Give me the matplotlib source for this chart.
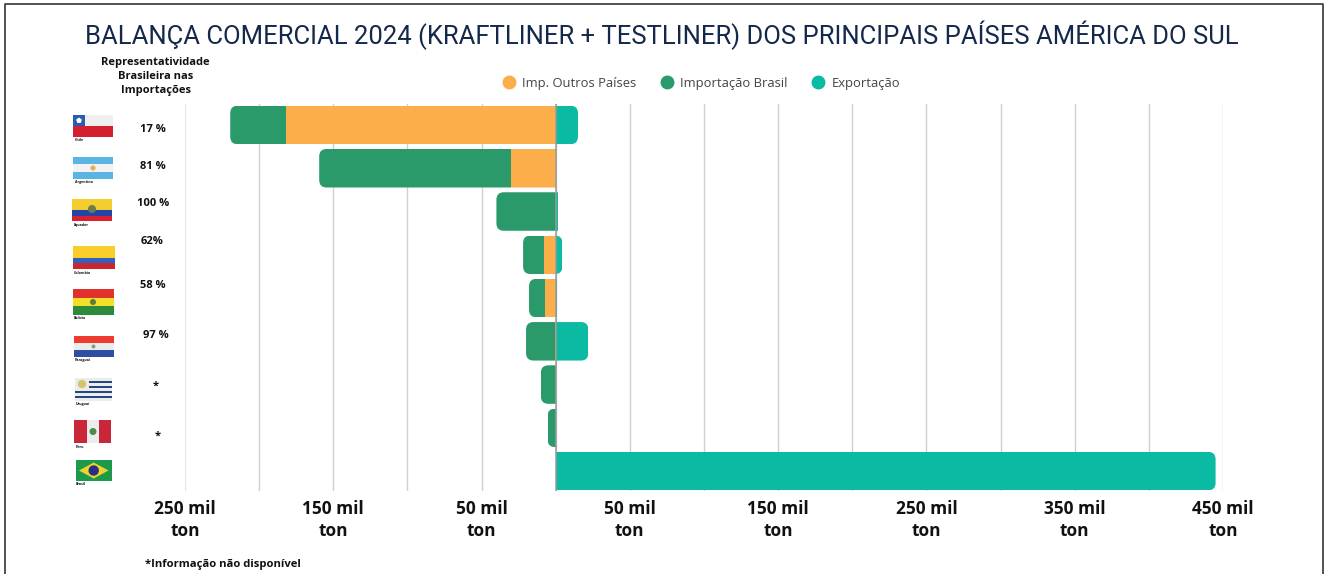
import matplotlib
matplotlib.use('Agg')
import matplotlib.pyplot as plt
from matplotlib.lines import Line2D
from matplotlib.patches import Rectangle, Circle, FancyBboxPatch, RegularPolygon, Polygon
from matplotlib.transforms import Affine2D

# valores em mil toneladas
paises = ['Chile', 'Argentina', 'Equador', 'Colombia', 'Bolivia', 'Paraguai', 'Uruguai', 'Peru', 'Brasil']
imp_outros = [182, 30, 0, 8, 7, 0.5, 0, 0, 0]
imp_brasil = [37.5, 129.5, 40, 14, 11, 19.5, 10, 5.5, 0]
exportacao = [15, 0, 1.5, 4.5, 0.7, 22, 0, 0, 445]
representatividade = ['17 %', '81 %', '100 %', '62%', '58 %', '97 %', '*', '*', '']

ticks_label = [-250, -150, -50, 50, 150, 250, 350, 450]
ticks_grade = [-200, -100, 0, 100, 200, 300, 400]
labels_x = ['250 mil\nton', '150 mil\nton', '50 mil\nton', '50 mil\nton',
            '150 mil\nton', '250 mil\nton', '350 mil\nton', '450 mil\nton']

LARANJA = '#FCAE4B'
VERDE = '#2B9A6B'
TEAL = '#0BBAA2'
W, H = 1325, 574

fig = plt.figure(figsize=(W / 100, H / 100), dpi=100)
fig.patch.set_facecolor('white')
px = Affine2D().scale(1, -1).translate(0, H)  # pixels da imagem, y para baixo


def axes_px(x0, y0, x1, y1):
    return [x0 / W, 1 - y1 / H, (x1 - x0) / W, (y1 - y0) / H]


def texto(x, y, s, **kw):
    kw.setdefault('ha', 'center')
    kw.setdefault('va', 'center')
    kw.setdefault('family', 'Open Sans')
    kw.setdefault('color', '#111111')
    kw.setdefault('fontweight', 'bold')
    fig.text(x / W, 1 - y / H, s, **kw)


ax = fig.add_axes(axes_px(185, 104, 1223, 491))
ax.set_xlim(-250, 450)
ax.set_ylim(8.46, -0.485)
for s in ax.spines.values():
    s.set_visible(False)

y = list(range(len(paises)))
neg_outros = [-v for v in imp_outros]
neg_brasil = [-v for v in imp_brasil]
b_o = ax.barh(y, neg_outros, height=0.89, color=LARANJA, zorder=3)
b_b = ax.barh(y, neg_brasil, left=neg_outros, height=0.89, color=VERDE, zorder=3)
b_e = ax.barh(y, exportacao, height=0.89, color=TEAL, zorder=3)

# cantos arredondados nas pontas externas das barras
raio_x = 5.0
raio_y = 7.5 / 43.3
for i in y:
    esq = -(imp_outros[i] + imp_brasil[i])
    dir_ = exportacao[i]
    if esq == 0:
        esq = -50
    if dir_ < 3:
        dir_ = dir_ + 50
    clip = FancyBboxPatch((esq, i - 0.445), dir_ - esq, 0.89,
                          boxstyle='round,pad=0,rounding_size=%f' % raio_x,
                          mutation_aspect=raio_y / raio_x,
                          transform=ax.transData)
    b_o[i].set_clip_path(clip)
    b_b[i].set_clip_path(clip)
    b_e[i].set_clip_path(clip)

ax.set_xticks(ticks_label)
ax.set_xticklabels(labels_x, fontfamily='Open Sans', fontweight='bold', fontsize=12.4,
                   color='#111111', linespacing=1.3)
ax.set_xticks(ticks_grade, minor=True)
ax.set_yticks([])
ax.tick_params(axis='x', which='both', length=0, pad=6.5)
ax.grid(axis='x', which='both', color='#d0d0d0', linewidth=1.0, zorder=0)
ax.get_xgridlines()[0].set_color('#e6e6e6')
ax.axvline(0, color='#9a9a9a', linewidth=1.1, zorder=4)

# titulo e moldura
texto(662, 35, 'BALANÇA COMERCIAL 2024 (KRAFTLINER + TESTLINER) DOS PRINCIPAIS PAÍSES AMÉRICA DO SUL',
      family='Roboto', fontweight='normal', fontsize=18.45, color='#14284B')
fig.add_artist(Line2D([5, 5, 1323, 1323], [574, 4, 4, 574], color='#444444', linewidth=1.3, transform=px))

texto(155.5, 76.5, 'Representatividade\nBrasileira nas\nImportações', fontsize=8, linespacing=1.42)
texto(223, 564, '*Informação não disponível', fontsize=8.1)

# representatividade
pos_pct = [(153, 129.5), (153, 166.5), (153, 203.5), (152, 241.5), (153, 285.5), (156, 335.5), (156, 386), (158, 436)]
for (px_x, px_y), s in zip(pos_pct, representatividade):
    texto(px_x, px_y, s, fontsize=8)

# legenda
handles = [Line2D([], [], marker='o', linestyle='', markersize=9, color=c) for c in (LARANJA, VERDE, TEAL)]
leg = fig.legend(handles, ['Imp. Outros Países', 'Importação Brasil', 'Exportação'],
                 ncol=3, frameon=False, loc='center', bbox_to_anchor=(698 / W, 1 - 83 / H),
                 prop={'family': 'Open Sans', 'size': 9.4}, labelcolor='#444444',
                 handletextpad=0.0, columnspacing=1.35)


# bandeiras (desenho simplificado)
def faixas(x0, y0, x1, y1, cores, pesos=None):
    pesos = pesos or [1] * len(cores)
    total = sum(pesos)
    atual = y0
    for c, p in zip(cores, pesos):
        h = (y1 - y0) * p / total
        fig.add_artist(Rectangle((x0, atual), x1 - x0, h, color=c, linewidth=0, transform=px))
        atual += h


def circulo(x, y, r, c):
    fig.add_artist(Circle((x, y), r, color=c, linewidth=0, transform=px))


def legenda_flag(x, y, s):
    texto(x, y, s, fontsize=2.6, ha='left')


faixas(73, 115, 113, 137, ['#EFEFEF', '#D3202E'])
fig.add_artist(Rectangle((73, 115), 12, 11, color='#2A5CAF', linewidth=0, transform=px))
fig.add_artist(RegularPolygon((79, 120.5), 5, radius=3, color='white', orientation=3.1416, linewidth=0, transform=px))
legenda_flag(75, 140.5, 'Chile')

faixas(73, 157, 113, 179, ['#5CB4E4', '#F2F2F2', '#5CB4E4'])
circulo(93, 168, 2.6, '#E5B058')
legenda_flag(75, 182.5, 'Argentina')

faixas(72, 199, 112, 221, ['#F3CE2E', '#2345A8', '#D8232F'], [2, 1, 1])
circulo(92, 209, 4, '#6E7B4E')
legenda_flag(74, 224.5, 'Equador')

faixas(73, 246, 115, 269, ['#F9CE2B', '#2F62BE', '#C9262E'], [2, 1, 1])
legenda_flag(74, 272.5, 'Colombia')

faixas(73, 289, 113.5, 315, ['#E0322A', '#F3DF2A', '#2C8B3A'])
circulo(93, 302, 3, '#5F7A3A')
legenda_flag(74, 318, 'Bolivia')

faixas(73.5, 336, 113.5, 357, ['#EE3B30', '#ECECEC', '#2C4EA3'])
circulo(93.5, 346.5, 2, '#7FA56F')
legenda_flag(75, 360.5, 'Paraguai')

faixas(75, 378, 112, 401, ['#ECECEC', '#25477F', '#ECECEC', '#25477F', '#ECECEC', '#25477F', '#ECECEC', '#25477F', '#ECECEC'])
fig.add_artist(Rectangle((75, 378), 14, 13, color='#ECECEC', linewidth=0, transform=px))
circulo(82, 384, 4.2, '#D9C268')
legenda_flag(76, 404.5, 'Uruguai')

fig.add_artist(Rectangle((74, 420), 37, 23, color='#C9263A', linewidth=0, transform=px))
fig.add_artist(Rectangle((87, 420), 12, 23, color='#EDEDED', linewidth=0, transform=px))
circulo(93, 431.5, 3.5, '#4E8A4C')
legenda_flag(76, 446.5, 'Peru')

fig.add_artist(Rectangle((75.5, 460), 36.5, 21, color='#1B9A4B', linewidth=0, transform=px))
fig.add_artist(Polygon([(79, 470.5), (93.7, 462.5), (108.5, 470.5), (93.7, 478.5)], color='#F1D22C', linewidth=0, transform=px))
circulo(93.7, 470.5, 5.2, '#2A2F86')
legenda_flag(76, 484, 'Brasil')

fig.savefig('out.png', dpi=100)
